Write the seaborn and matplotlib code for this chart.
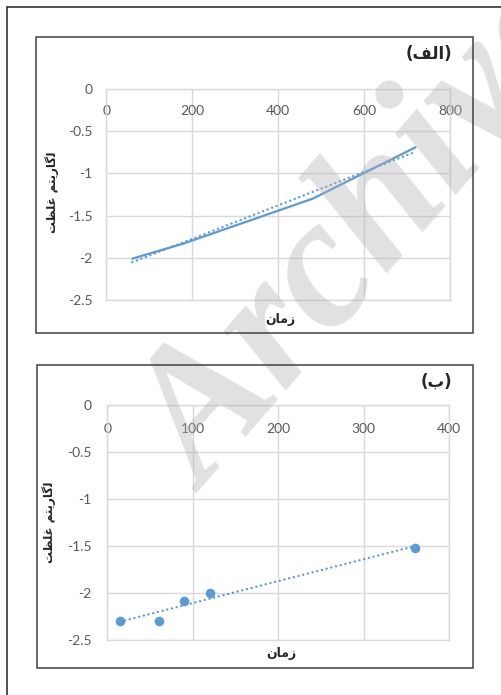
import numpy as np
import pandas as pd
import matplotlib
matplotlib.use("Agg")
import matplotlib.pyplot as plt
from matplotlib.patches import Rectangle
from matplotlib.lines import Line2D
import seaborn as sns

# ---- data -------------------------------------------------------------
time_a = [60, 180, 480, 720]
logc_a = [-2.01, -1.83, -1.30, -0.69]

time_b = [15, 60, 90, 120, 360]
logc_b = [-2.30, -2.30, -2.09, -2.00, -1.52]

xticks_a = [0, 200, 400, 600, 800]
xticks_b = [0, 100, 200, 300, 400]
yticks = [0, -0.5, -1, -1.5, -2, -2.5]

# Persian labels, written in shaped presentation forms (visual order)
title_a = "(\uFED2\uFEDF\uFE8D)"          # (الف)
title_b = "(\uFE8F)"                       # (ب)
xlabel = "\uFEE5\uFE8E\uFEE3\uFEAF"        # زمان
ylabel = ("\uFE96\uFEC8\uFEE0\uFECF" " "
          "\uFEE2\uFE98\uFBFE\uFEAD\uFE8E\uFB94\uFEDF")   # لگاریتم غلظت

BLUE = "#5B9BD5"
GRID = "#D9D9D9"
TICK = "#595959"
DOTS = (0, (0.05, 2.0))

sns.set_theme(style="white")
plt.rcParams["font.family"] = ["Lato", "DejaVu Sans"]

W, H = 502, 695
fig = plt.figure(figsize=(W / 100, H / 100), dpi=100)


def fx(px):
    return px / W


def fy(py):
    return 1 - py / H


# page frame
fig.add_artist(Line2D([fx(7), fx(7)], [fy(7), 0], color="#333333", lw=1.2, zorder=20))
fig.add_artist(Line2D([fx(7), 1], [fy(7), fy(7)], color="#333333", lw=1.2, zorder=20))


def chart_box(x0, y0, x1, y1):
    fig.add_artist(Rectangle((fx(x0), fy(y1)), fx(x1) - fx(x0), fy(y0) - fy(y1),
                             fill=False, edgecolor="#404040", lw=1.1, zorder=20))


def style_axes(ax, xmax, xticks, pad_x, pad_y):
    ax.set_xlim(0, xmax)
    ax.set_ylim(-2.5, 0)
    ax.set_xticks(xticks)
    ax.set_xticklabels([str(t) for t in xticks])
    ax.set_yticks(yticks)
    ax.set_yticklabels(["0" if t == 0 else f"{t:g}" for t in yticks])
    ax.xaxis.set_ticks_position("top")
    ax.tick_params(axis="x", top=False, bottom=False, labeltop=True,
                   labelbottom=False, pad=pad_x, labelsize=10, labelcolor=TICK)
    ax.tick_params(axis="y", left=False, pad=pad_y, labelsize=10, labelcolor=TICK)
    ax.grid(True, color=GRID, lw=1.0)
    for s in ax.spines.values():
        s.set_color(GRID)
        s.set_linewidth(1.0)
    ax.set_xlabel("")
    ax.set_ylabel("")


arabic = dict(family=["DejaVu Sans"], weight="bold", color="#262626")

# ---- chart (a) -------------------------------------------------------
chart_box(36, 37, 473, 333)
ax1 = fig.add_axes([fx(106.5), fy(300), fx(450) - fx(106.5), fy(89) - fy(300)])
df_a = pd.DataFrame({"t": time_a, "c": logc_a})
sns.lineplot(data=df_a, x="t", y="c", ax=ax1, color=BLUE, lw=1.6)
sns.regplot(data=df_a, x="t", y="c", ax=ax1, ci=None, scatter=False,
            line_kws=dict(color=BLUE, lw=1.7, ls=DOTS, dash_capstyle="round"))
style_axes(ax1, 800, xticks_a, -26, 4)
fig.text(fx(452), fy(54), title_a, ha="right", va="center", fontsize=12, **arabic)
fig.text(fx(280), fy(320), xlabel, ha="center", va="center", fontsize=9, **arabic)
fig.text(fx(52), fy(192), ylabel, ha="center", va="center", rotation=90,
         fontsize=8.5, **arabic)

# ---- chart (b) -------------------------------------------------------
chart_box(37, 365, 473, 668)
ax2 = fig.add_axes([fx(107.5), fy(639.7), fx(449) - fx(107.5), fy(404.7) - fy(639.7)])
df_b = pd.DataFrame({"t": time_b, "c": logc_b})
sns.regplot(data=df_b, x="t", y="c", ax=ax2, ci=None, scatter=False,
            line_kws=dict(color=BLUE, lw=1.7, ls=DOTS, dash_capstyle="round"))
sns.scatterplot(data=df_b, x="t", y="c", ax=ax2, color=BLUE, s=48,
                edgecolor=BLUE, linewidth=0, zorder=4)
style_axes(ax2, 400, xticks_b, -28, 5.5)
fig.text(fx(452), fy(382), title_b, ha="right", va="center", fontsize=12, **arabic)
fig.text(fx(281), fy(653), xlabel, ha="center", va="center", fontsize=9, **arabic)
fig.text(fx(49), fy(522), ylabel, ha="center", va="center", rotation=90,
         fontsize=8.5, **arabic)

# ---- watermark --------------------------------------------------------
fig.text(fx(206), fy(494), "Archive", family="Liberation Serif", weight="bold",
         style="italic", fontsize=134, color="#B0B0B0", alpha=0.38,
         rotation=49, rotation_mode="anchor", ha="left", va="baseline", zorder=10)

fig.savefig("out.png", dpi=100)
